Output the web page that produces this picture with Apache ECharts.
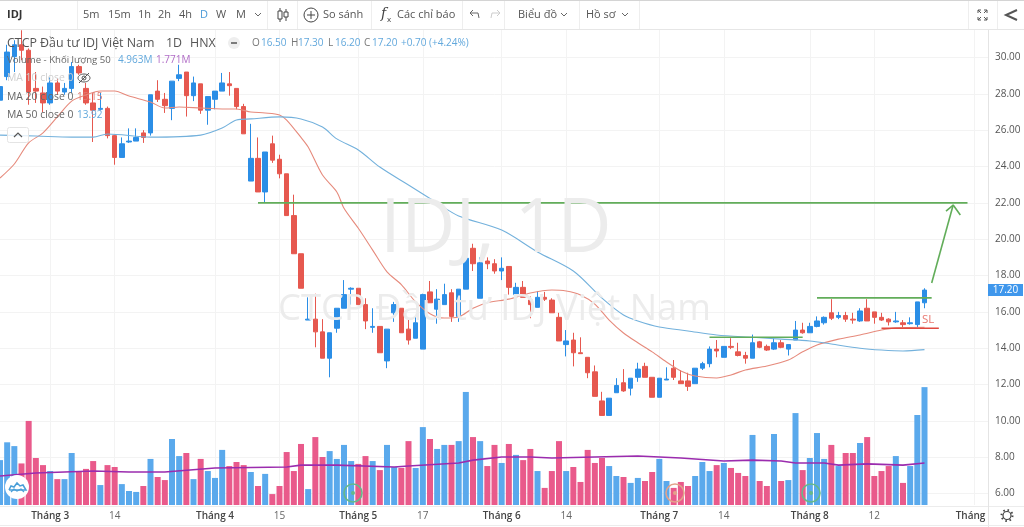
<!DOCTYPE html>
<html>
<head>
<meta charset="utf-8">
<style>html,body{margin:0;padding:0;background:#fff}#c{width:1024px;height:527px}</style>
<script src="https://cdn.jsdelivr.net/npm/echarts@6/dist/echarts.min.js"></script>
</head>
<body>
<div id="c"></div>
<script>
const tickIndex = [7,16,30,39,50,59,70,79,92,101,113,122,136];
const tickLabels = ['Tháng 3','14','Tháng 4','15','Tháng 5','17','Tháng 6','14','Tháng 7','14','Tháng 8','12','Tháng 9'];
const slotCount = 139;
const priceTicks = {min:6, max:32, step:2};

const opens = [27.65,28.95,30.05,30.7,30.4,28.3,28.05,27.5,28.6,28.1,
28.3,29.5,28.3,27.5,27.15,27.2,25.7,24.5,25.35,25.4,
25.85,25.85,28.15,27.7,27.2,28.85,29.2,27.9,28.55,27.1,
27.7,28.15,28.55,28.3,27.3,23.2,24.45,22.6,25.25,24.4,
23.6,21.3,19.2,15.55,15.6,14.9,13.45,15.1,16.2,17.25,
17.3,16.4,15.15,15.2,13.3,15.95,16.2,15.05,14.55,13.95,
17.1,16.15,16.4,17.05,15.75,17.25,19.5,16.75,18.8,18.65,
18.25,18.5,16.95,17.35,16.65,16.25,16.8,16.65,15.7,14.2,
14.45,13.75,13.5,12.7,11.1,10.3,11.55,12.1,11.8,12.4,
13,12.4,11.3,12.25,12.9,12.2,12.2,12.05,12.9,13.15,
13.95,13.5,14.1,13.8,13.6,13.45,14.35,14.1,13.95,14.3,
13.95,14.45,15,14.85,15.2,15.4,15.95,15.7,15.8,15.6,
15.5,16.2,16,15.7,15.6,15.45,15.4,15.35,15.3,16.5];
const closes = [28.4,30.3,30.7,30.4,28.1,28.15,27.5,28.6,28.15,28.3,
29.5,29.15,27.5,27.1,27.2,25.7,24.5,25.25,25.4,25.6,
25.6,27.95,27.7,27.35,28.7,29.05,27.9,28.6,27.1,27.85,
28.15,28.6,28.45,27.3,25.8,24.45,22.6,24.8,24.35,23.6,
21.3,19.2,17.3,15.6,14.9,13.45,14.85,16.2,16.95,17.3,
16.4,15.5,15.2,13.75,15.05,16.4,14.85,14.45,15.4,16.95,
16.5,16.7,16.95,15.75,17.25,18.95,18.65,18.7,18.65,18.25,
18.4,17.35,17.35,16.8,16.4,16.8,16.7,15.95,14.4,14.4,
13.75,13.7,12.65,11.35,10.3,11.25,11.95,11.65,12.35,12.85,
12.4,11.3,12.35,12.3,12.4,12.05,11.9,12.9,13.15,13.95,
13.85,14.1,14.05,13.6,13.45,14.3,14.05,13.9,14.3,14.05,
14.2,15,14.85,15.2,15.5,15.7,15.65,15.8,15.6,15.55,
16.05,15.5,15.7,15.55,15.45,15.5,15.3,15.4,16.55,17.2];
const lows = [27.4,28.75,29.2,29.85,27.4,27.5,27,27.4,27.95,27.95,
28.05,29.05,27.4,25.35,27.1,25.55,24.1,24.5,25.3,25.4,
25.3,25.7,27.55,26.95,26.55,28.7,26.75,27.6,26.9,26.3,
27.15,28.15,27.9,27.15,25.8,23.2,22.6,22,24.2,23.35,
21.3,19.2,17.3,15.55,14.05,13.45,12.4,14.85,16.2,16.4,
16.4,15.05,14.85,13.75,12.9,15.45,14.85,14.2,14.55,13.95,
16.5,15.35,16.4,15.45,15.45,17.25,18.25,16.75,18.35,18.1,
17.75,16.95,16.45,16.8,15.65,16.25,16.6,15.95,14.4,13.55,
13,13.7,12.35,11.35,10.3,10.3,11.55,11.6,11.4,12.15,
12.4,11.3,11.3,12.25,12.25,12.05,11.65,12.05,12.8,12.95,
13.5,13.5,13.95,13.55,13.15,13.45,14,13.85,13.9,14,
13.6,14.45,14.8,14.85,15.15,15.3,15.55,15.6,15.45,15.35,
15.45,15.5,15.35,15.5,15.25,15.4,15.15,15.3,15.15,16.2];
const highs = [28.8,30.7,30.95,31.5,30.5,29.2,28.4,28.9,28.85,28.6,
29.75,29.6,28.6,28.05,28.05,27.3,25.75,25.6,26.1,26.1,
26,27.95,28.75,28.05,28.7,29.6,29.2,28.95,28.55,27.85,
28.15,29.15,29.2,28.3,27.45,26.35,25.6,24.8,25.7,24.65,
23.6,22.45,19.2,16.8,17,15.6,14.85,16.2,17.75,17.35,
17.3,16.75,16.2,15.2,15.05,16.55,16.2,15.6,15.8,17,
17.7,17.25,17.55,17.25,17.25,18.95,19.75,19,19,18.9,
19,18.5,17.6,17.7,16.85,17.15,17.1,16.75,15.95,15,
14.85,14.6,13.5,13.05,11.6,11.25,12.35,12.85,12.35,13.2,
13.2,12.4,12.35,12.95,13.35,12.8,12.65,12.9,13.25,14.1,
14.45,14.1,14.55,14.3,13.8,14.75,14.4,14.2,14.55,14.45,
14.2,15.5,15.4,15.4,15.75,15.75,16.7,16,16,15.95,
16.2,16.7,16,15.95,15.65,16,15.55,15.7,16.55,17.3];
const volumes = [1.89,2.64,2.48,1.75,3.54,1.98,1.68,1.43,1.09,1.09,
2.19,1.43,1.52,1.85,0.84,1.68,1.6,0.88,0.59,0.55,
0.8,1.94,1.18,1.05,2.78,2.06,2.19,1.09,1.94,1.43,
1.14,2.32,1.64,1.81,1.68,1.39,0.8,1.31,0.46,0.8,
2.23,1.43,2.57,0.67,2.86,2.02,2.27,1.94,2.53,1.85,
1.73,2.06,1.85,1.47,2.53,1.6,1.56,2.69,1.56,3.28,
2.78,2.36,2.53,2.53,2.69,4.76,2.86,2.69,1.64,2.53,
1.77,2.57,2.11,1.89,2.36,1.43,0.72,1.43,2.69,1.43,
1.6,0.97,2.32,1.77,1.98,1.64,1.22,1.18,0.93,1.14,
1.01,1.39,1.94,1.01,0.72,0.97,0.8,1.22,1.81,1.43,
1.68,1.77,1.56,1.35,1.22,2.95,1.01,0.8,2.99,1.01,
1.05,3.87,1.47,1.98,3.03,1.94,2.53,1.64,2.19,2.19,
2.61,2.86,1.22,1.43,1.64,2.06,0.93,1.64,3.79,4.963];

const ma20 = [[0,23.37],[2,24.14],[4,25.3],[6,25.85],[8,26.73],[10,27.6],[12,27.94],[14,28.16],[16,28.16],[18,27.88],[21,27.55],[23,27.22],[25,27.28],[28,27.22],[31,27.17],[33,27.17],[35,27],[37,26.95],[39,26.84],[40,26.56],[42,25.6],[43,25.07],[45,23.53],[47,22.6],[48,21.7],[50,20.6],[52,19.4],[54,18.2],[56,17.5],[58,16.55],[60,15.9],[62,15.66],[64,15.72],[66,16.2],[68,16.5],[71,16.7],[74,17.04],[77,17.2],[79,17.15],[81,16.93],[83,16.43],[85,15.55],[87,14.84],[89,14.3],[91,13.8],[93,13.24],[95,12.75],[97,12.47],[100,12.36],[102,12.53],[104,12.8],[107,13.02],[110,13.35],[112,13.8],[114,14.18],[117,14.5],[120,14.73],[123,15],[125,15.12],[129,15.15]];
const ma50 = [[0,25.73],[5,25.68],[10,25.62],[13,25.62],[15,25.79],[21,25.62],[28,25.73],[31,26.12],[33,26.56],[35,26.62],[39,26.73],[42,26.62],[45,26.17],[47,25.52],[50,24.91],[53,23.97],[57,22.98],[61,21.99],[64,21.28],[70,20.5],[75,19.3],[80,18.25],[84,16.76],[87,15.83],[89,15.5],[92,15.17],[96,14.95],[100,14.73],[105,14.6],[109,14.5],[113,14.4],[116,14.23],[120,14],[123,13.9],[126,13.85],[129,13.92]];
const volumeMa = [[0,1.22],[5,1.35],[9,1.39],[13,1.43],[18,1.39],[23,1.39],[30,1.56],[40,1.6],[42,1.68],[47,1.68],[55,1.6],[57,1.64],[64,1.77],[66,1.89],[70,2.02],[74,2.02],[77,1.98],[89,2.06],[95,1.98],[101,1.85],[105,1.89],[109,1.85],[111,1.77],[115,1.77],[117,1.68],[121,1.73],[126,1.68],[129,1.771]];

const resistanceTarget = [[36,22],[135,22]];
const resistanceUpper = [[114,16.77],[130,16.77]];
const resistanceLower = [[99,14.6],[112,14.6]];
const stopLoss = [[123,15.1],[131,15.1]];
const arrowShaft = [[130,17.59],[133,21.88]];
const arrowHead = [[132,21.55],[133,21.88],[134,21.33]];

const categories = [];
for (let i = 0; i < slotCount; i++) {
  const k = tickIndex.indexOf(i);
  categories.push(k >= 0 ? tickLabels[k] : '');
}
const FONT = '"Open Sans", sans-serif';
const UP = '#2b8ee6', DOWN = '#e6584f';
const VUP = '#5aa9ec', VDOWN = '#e95a8b';
const GREEN = '#62ad5a';
const G = [];
function t(x, y, text, color, size, extra) {
  G.push({type:'text', z: (extra && extra.z) || 60, silent:true, style:Object.assign({x, y, text, fill:color, fontSize:size, fontFamily:FONT, textVerticalAlign:'middle', textAlign:'left'}, extra || {})});
}
function rect(x, y, w, h, fill, z) { G.push({type:'rect', z: z||50, silent:true, shape:{x,y,width:w,height:h}, style:{fill}}); }
function ln(pts, color, w, z) { G.push({type:'polyline', z: z||60, silent:true, shape:{points:pts}, style:{stroke:color, lineWidth:w||1, fill:'none'}}); }
function circ(cx, cy, r, stroke, fill, z, w) { G.push({type:'circle', z: z||60, silent:true, shape:{cx,cy,r}, style:{stroke:stroke||'none', fill:fill||'none', lineWidth:w||1}}); }

// watermark
t(380, 231, 'IDJ, 1D', '#ececec', 75, {z:0});
t(278, 310, 'CTCP Đầu tư IDJ Việt Nam', '#ececec', 36.4, {z:0});

// toolbar
rect(0, 0, 1024, 30, '#ffffff', 50);
rect(0, 0, 1024, 1, '#d4d4d4', 51);
rect(0, 29, 1024, 1, '#e6e6e6', 51);
[77,267,297,371,462,504,579,639,968,997].forEach(x => rect(x, 1, 1, 28, '#eeeeee', 51));
t(7, 15, 'IDJ', '#333', 11, {fontWeight:'bold'});
[['5m',83],['15m',108],['1h',138],['2h',158],['4h',179],['W',216],['M',236]].forEach(a => t(a[1], 15, a[0], '#555', 11));
t(200, 15, 'D', '#4a9ad8', 11);
ln([[255,13],[258,16],[261,13]], '#666', 1);
// candle icon
ln([[280,8],[280,22]], '#444', 1); rect(278, 11, 4, 8, '#fff', 61); G.push({type:'rect', z:62, silent:true, shape:{x:278,y:11,width:4,height:8}, style:{stroke:'#444',fill:'#fff'}});
ln([[286,9],[286,21]], '#444', 1); G.push({type:'rect', z:62, silent:true, shape:{x:284,y:12,width:4,height:5}, style:{stroke:'#444',fill:'#fff'}});
circ(311, 15, 7, '#444', null, 61);
ln([[307,15],[315,15]], '#444', 1); ln([[311,11],[311,19]], '#444', 1);
t(323, 15, 'So sánh', '#555', 11);
t(381, 14, 'f', '#444', 14, {fontStyle:'italic', fontFamily:'"DejaVu Serif", serif'});
t(387, 20, 'x', '#444', 8);
t(397, 15, 'Các chỉ báo', '#555', 11);
ln([[479,18],[478,13],[470,13]], '#666', 1); ln([[473,10],[470,13],[473,16]], '#666', 1);
ln([[491,18],[492,13],[500,13]], '#ccc', 1); ln([[497,10],[500,13],[497,16]], '#ccc', 1);
t(518, 15, 'Biểu đồ', '#555', 11);
ln([[561,13],[564,16],[567,13]], '#666', 1);
t(586, 15, 'Hồ sơ', '#555', 11);
ln([[622,13],[625,16],[628,13]], '#666', 1);
[[978,10,1,1],[987,10,-1,1],[978,20,1,-1],[987,20,-1,-1]].forEach(a => {
  ln([[a[0],a[1]],[a[0]+3*a[2],a[1]+3*a[3]]], '#555', 1);
  ln([[a[0],a[1]],[a[0]+3*a[2],a[1]]], '#555', 1);
  ln([[a[0],a[1]],[a[0],a[1]+3*a[3]]], '#555', 1);
});
ln([[1017,10],[1006,15],[1017,20]], '#555', 2);

// legend text
t(7, 43, 'CTCP Đầu tư IDJ Việt Nam', '#555', 12.4);
t(166, 43, '1D', '#555', 12.4);
t(190, 43, 'HNX', '#555', 12.4);
circ(234, 43, 6, null, '#eeeeee', 60);
ln([[231,43],[237,43]], '#555', 1.5, 61);
const blue = '#62a8dc';
t(252, 43, 'O', '#777', 10); t(261, 43, '16.50', blue, 10);
t(291, 43, 'H', '#777', 10); t(298, 43, '17.30', blue, 10);
t(328, 43, 'L', '#777', 10); t(335, 43, '16.20', blue, 10);
t(364, 43, 'C', '#777', 10); t(372, 43, '17.20', blue, 10);
t(401, 43, '+0.70 (+4.24%)', blue, 10);
t(7, 60, 'Volume - Khối lượng 50', '#666', 9.6);
t(118, 60, '4.963M', blue, 10);
t(156, 60, '1.771M', '#b06cc6', 10);
t(7, 78, 'MA 10 close 0', '#cfcfcf', 10.4);
G.push({type:'ellipse', z:61, silent:true, shape:{cx:84,cy:78,rx:6,ry:4}, style:{stroke:'#555',fill:'none'}});
circ(84, 78, 2, '#555', null, 61);
ln([[79,83],[89,73]], '#555', 1, 61);
t(7, 97, 'MA 20 close 0', '#666', 10.4);
t(77, 97, '15.15', '#e07d72', 10);
t(7, 115, 'MA 50 close 0', '#666', 10.4);
t(77, 115, '13.92', blue, 10);
G.push({type:'rect', z:60, silent:true, shape:{x:7.5,y:127.5,width:21,height:15,r:2}, style:{stroke:'#e4e4e4',fill:'rgba(255,255,255,0.8)'}});
ln([[14,137],[18,133],[22,137]], '#555', 1.2, 61);

// SL text, price tag
t(922, 320, 'SL', '#e8776e', 11.5);
rect(988, 284, 35, 12, '#3f97ec', 60);
t(1005.5, 290.5, '17.20', '#ffffff', 10, {textAlign:'center', z:61});

// logo
circ(17, 487, 12, null, '#ffffff', 55);
ln([[9,490],[11,486],[14,487],[17,483],[20,486],[23,485],[26,490],[9,490]], '#4a9fd8', 1.5, 56);
ln([[11,492],[14,489],[17,491],[21,489],[24,492]], '#4a9fd8', 1.2, 56);

// event markers
[[353,'#66b98a'],[675,'#e3a28a'],[811,'#66b98a']].forEach(m => {
  circ(m[0], 493, 9, m[1], null, 55, 1.6);
  circ(m[0], 493, 2, null, m[1], 55);
});

// bottom chrome
rect(989, 505, 35, 22, '#ffffff', 30);
rect(0, 506, 1024, 1, '#ececec', 31);
rect(988, 30, 1, 497, '#e4e4e4', 31);
rect(0, 525, 1024, 1, '#ececec', 31);
circ(1007, 515.5, 4, '#444', null, 40, 1.2);
G.push({type:'circle', z:40, silent:true, shape:{cx:1007,cy:515.5,r:5.5}, style:{stroke:'#444',fill:'none',lineWidth:2,lineDash:[1.5,2.8]}});

function lineSeries(data, color, width, axis, extra) {
  return Object.assign({type:'line', data, xAxisIndex:axis, yAxisIndex:axis, symbol:'none', lineStyle:{color, width}, silent:true, animation:false}, extra||{});
}

const chart = echarts.init(document.getElementById('c'), null, {renderer:'canvas'});
chart.setOption({
  animation:false,
  backgroundColor:'#ffffff',
  graphic:{elements:G},
  grid:[
    {left:0, width:989, top:21.17, height:472.4},
    {left:0, width:989, top:30, height:475}
  ],
  xAxis:[
    {type:'category', gridIndex:0, data:categories, boundaryGap:false, show:false},
    {type:'category', gridIndex:1, data:categories, boundaryGap:false,
      axisLine:{show:false}, axisTick:{show:false},
      splitLine:{show:true, interval:(i,v)=>v!=='', lineStyle:{color:'#f3f3f3', width:1}},
      axisLabel:{interval:(i,v)=>v!=='', margin:6, hideOverlap:false,
        formatter:v=>v.indexOf('Tháng')===0?'{m|'+v+'}':'{d|'+v+'}',
        rich:{m:{fontFamily:FONT,fontSize:10,fontWeight:600,color:'#444'},d:{fontFamily:FONT,fontSize:10,color:'#666'}}}}
  ],
  yAxis:[
    {type:'value', gridIndex:0, position:'right', min:priceTicks.min, max:priceTicks.max, interval:priceTicks.step,
      axisLine:{show:false}, axisTick:{show:false},
      splitLine:{show:true, lineStyle:{color:'#f3f3f3', width:1}},
      axisLabel:{margin:6, color:'#555', fontFamily:FONT, fontSize:10,
        formatter:v=>v===priceTicks.max?'':v.toFixed(2)}},
    {type:'value', gridIndex:1, position:'right', min:0, max:20, interval:20, show:false}
  ],
  series:[
    {type:'bar', xAxisIndex:1, yAxisIndex:1, barWidth:6, silent:true, z:1,
      data:volumes.map((v,i)=>({value:v, itemStyle:{color:closes[i]>=opens[i]?VUP:VDOWN}}))},
    lineSeries(volumeMa, '#9b2cae', 1.6, 1, {z:3}),
    {type:'candlestick', xAxisIndex:0, yAxisIndex:0, barWidth:5, silent:true, z:4,
      data:opens.map((o,i)=>[o,closes[i],lows[i],highs[i]]),
      itemStyle:{color:UP,color0:DOWN,borderColor:UP,borderColor0:DOWN,borderWidth:1}},
    lineSeries(ma20, '#e68a7c', 1.1, 0, {smooth:0.3, z:5}),
    lineSeries(ma50, '#73b1dc', 1.1, 0, {smooth:0.3, z:5}),
    lineSeries(resistanceTarget, GREEN, 1.6, 0, {z:6}),
    lineSeries(resistanceUpper, GREEN, 1.6, 0, {z:6}),
    lineSeries(resistanceLower, GREEN, 1.6, 0, {z:6}),
    lineSeries(stopLoss, '#e0483f', 1.4, 0, {z:6}),
    lineSeries(arrowShaft, GREEN, 1.6, 0, {z:6}),
    lineSeries(arrowHead, GREEN, 1.6, 0, {z:6})
  ]
});
</script>
</body>
</html>
